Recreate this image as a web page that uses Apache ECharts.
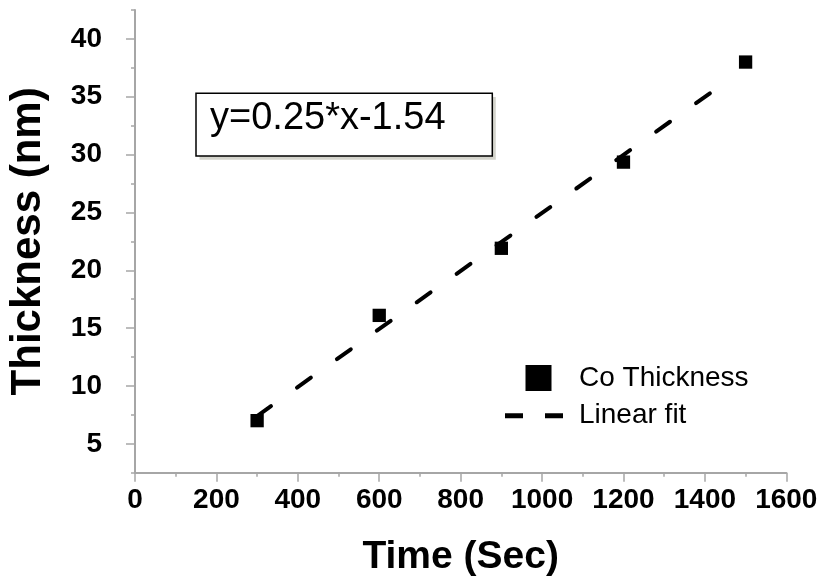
<!DOCTYPE html>
<html><head><meta charset="utf-8">
<script src="https://cdn.jsdelivr.net/npm/echarts@6/dist/echarts.min.js"></script>
<style>html,body{margin:0;padding:0;background:#fff}#c{width:820px;height:580px}</style>
</head><body><div id="c"></div>
<script>
const timeSec = [300, 600, 900, 1200, 1500];
const coThickness = [7.0, 16.1, 21.9, 29.35, 38.0];
const fitTime = [300, 1465];
const fitThickness = [7.4, 36.62];
const yLabelValues = [5, 10, 15, 20, 25, 30, 35, 40];
const equationText = 'y=0.25*x-1.54';
const seriesNames = ['Co Thickness', 'Linear fit'];

const axisColor = '#a6a6a6';
const FONT = '"Liberation Sans", Arial, sans-serif';

const chart = echarts.init(document.getElementById('c'), null, {renderer: 'canvas'});
chart.setOption({
  animation: false,
  backgroundColor: '#fff',
  grid: {left: 135, right: 33.7, top: 10, bottom: 107.3, outerBoundsMode: 'none'},
  xAxis: {
    type: 'value', min: 0, max: 1600, interval: 200,
    name: 'Time (Sec)', nameLocation: 'middle', nameGap: 65,
    nameTextStyle: {fontFamily: FONT, fontWeight: 'bold', fontSize: 39, color: '#000'},
    axisLine: {show: true, onZero: false, lineStyle: {color: axisColor, width: 2}},
    axisTick: {show: true, length: 9, lineStyle: {color: axisColor, width: 1.5}},
    minorTick: {show: true, splitNumber: 2, length: 4, lineStyle: {color: axisColor, width: 1.5}},
    axisLabel: {margin: 14, fontFamily: FONT, fontWeight: 'bold', fontSize: 28, color: '#000',
      formatter: v => String(v)},
    splitLine: {show: false}
  },
  yAxis: [
    {
      type: 'value', min: 2.5, max: 42.5, position: 'left',
      name: 'Thickness (nm)', nameLocation: 'middle', nameGap: 86,
      nameTextStyle: {fontFamily: FONT, fontWeight: 'bold', fontSize: 42, color: '#000'},
      axisLine: {show: true, onZero: false, lineStyle: {color: axisColor, width: 2}},
      axisTick: {show: true, length: 9, customValues: yLabelValues, lineStyle: {color: axisColor, width: 1.5}},
      axisLabel: {customValues: yLabelValues, margin: 33, fontFamily: FONT, fontWeight: 'bold', fontSize: 28, color: '#000',
        formatter: v => String(v)},
      splitLine: {show: false}
    },
    {
      type: 'value', min: 2.5, max: 42.5, interval: 5, position: 'left',
      axisLine: {show: false},
      axisTick: {show: true, length: 4, lineStyle: {color: axisColor, width: 1.5}},
      axisLabel: {show: false},
      splitLine: {show: false}
    }
  ],
  legend: {
    orient: 'vertical', left: 505, top: 364, padding: 0,
    itemWidth: 58, itemHeight: 26, itemGap: 9.7,
    textStyle: {fontFamily: FONT, fontSize: 28, color: '#000', padding: [0, 0, 0, 11]},
    data: [
      {name: seriesNames[0], icon: 'path://M0,0L0,0.01M58,26L58,25.99M20.5,0H46.5V26H20.5Z', itemStyle: {color: '#000', opacity: 1}},
      {name: seriesNames[1], icon: 'path://M0,0L0,0.01M58,26L58,25.99M0,10.5H18V15.5H0ZM40,10.5H58V15.5H40Z', itemStyle: {color: '#000', opacity: 1}}
    ]
  },
  series: [
    {
      type: 'scatter', name: seriesNames[0], yAxisIndex: 0,
      symbol: 'rect', symbolSize: 13.3,
      itemStyle: {color: '#000', opacity: 1},
      data: timeSec.map((x, i) => [x, coThickness[i]]),
      z: 3
    },
    {
      type: 'line', name: seriesNames[1], yAxisIndex: 0,
      symbol: 'none',
      itemStyle: {color: '#000'},
      lineStyle: {color: '#000', width: 4, type: [17, 32], cap: 'round'},
      data: fitTime.map((x, i) => [x, fitThickness[i]]),
      z: 2
    }
  ],
  graphic: [
    {type: 'rect', shape: {x: 199.5, y: 97, width: 296.3, height: 62.7}, style: {fill: '#d4d4cc'}, z: 10},
    {type: 'rect', shape: {x: 196, y: 93.3, width: 296.3, height: 62.7}, style: {fill: '#fff', stroke: '#000', lineWidth: 1.5}, z: 11},
    {type: 'text', x: 210, y: 119, style: {text: equationText, fontFamily: 'Liberation Sans', fontSize: 38, fill: '#000', verticalAlign: 'middle', align: 'left'}, z: 12}
  ]
});
</script>
</body></html>
